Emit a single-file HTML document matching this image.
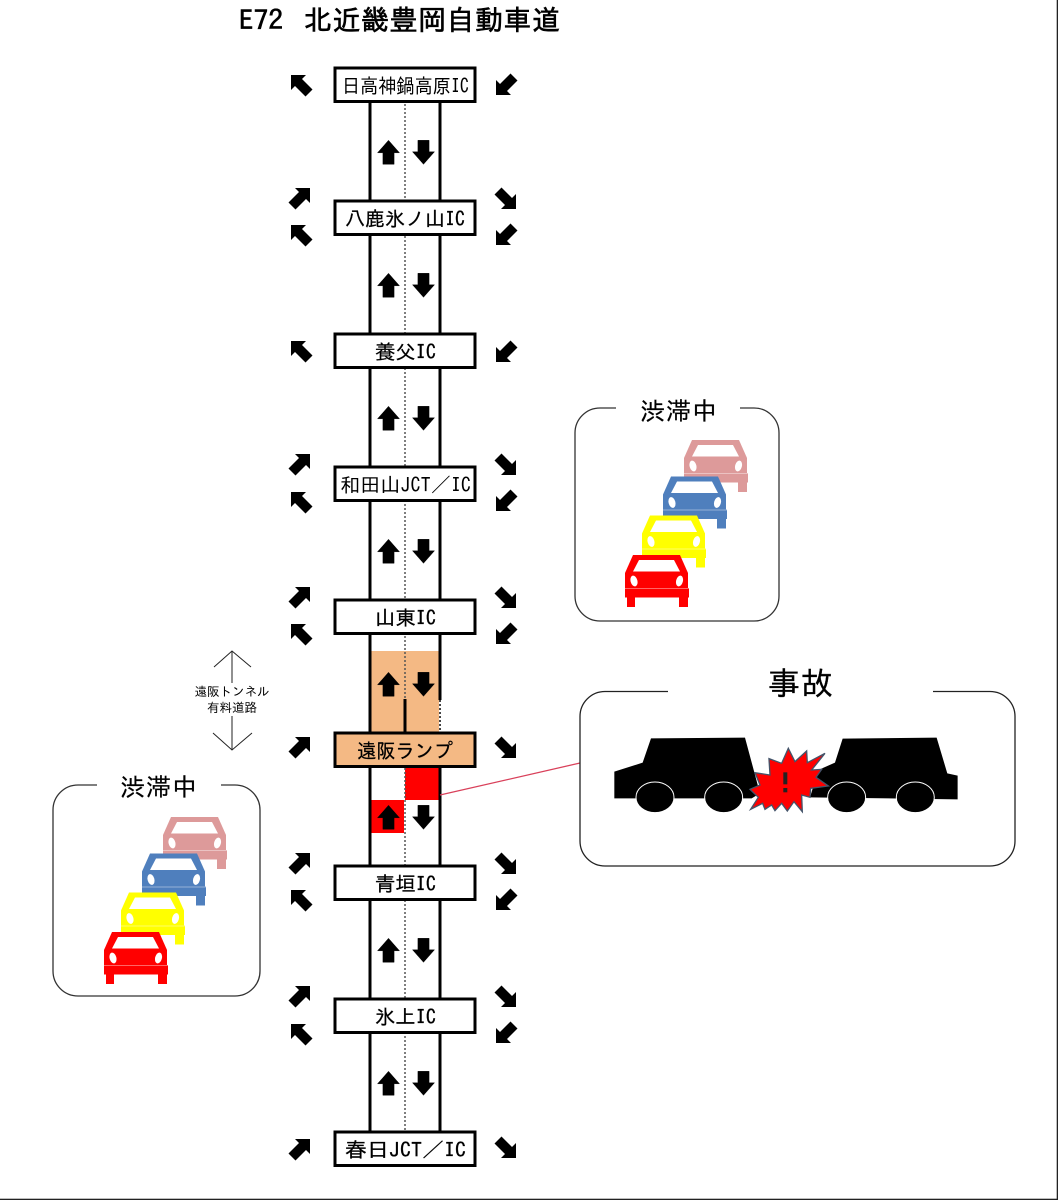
<!DOCTYPE html>
<html lang="ja">
<head>
<meta charset="utf-8">
<style>
html,body{margin:0;padding:0;background:#fff;}
svg{display:block;}
text{font-family:"IPAGothic","Noto Sans CJK JP",sans-serif;fill:#000;}
.lb{font-size:20px;stroke:#000;stroke-width:0.25;}
</style>
</head>
<body>
<svg width="1058" height="1200" viewBox="0 0 1058 1200" xmlns="http://www.w3.org/2000/svg">
<defs>
<polygon id="nw" points="-11,-11 4,-11 0,-7 10.5,3.500 3.500,10.500 -7,0 -11,4" fill="#000"/>
<polygon id="up" points="0,-12 11,0.500 5.600,0.500 5.600,12 -5.600,12 -5.600,0.500 -11,0.500" fill="#000" stroke="#000" stroke-width="0.4"/>
<g id="car">
<path d="M8,0H55L63,18V33H0V18Z"/>
<rect x="0" y="34" width="64" height="8.500"/>
<rect x="0" y="33" width="64" height="1" opacity="0.6"/>
<rect x="2" y="42" width="8" height="10"/>
<rect x="54" y="42" width="9" height="10"/>
<polygon points="14,5 49,5 55,16.500 8,16.500" fill="#fff"/>
<ellipse cx="9" cy="26" rx="3.400" ry="5.500" transform="rotate(-15 9 26)" fill="#fff"/>
<ellipse cx="54.500" cy="26" rx="3.400" ry="5.500" transform="rotate(15 54.500 26)" fill="#fff"/>
</g>
<g id="cars">
<use href="#car" x="684" y="440" fill="#dd9a9a"/>
<use href="#car" x="663" y="476.500" fill="#4f7fbd"/>
<use href="#car" x="642" y="515.500" fill="#ffff00"/>
<use href="#car" x="625" y="555" fill="#ff0000"/>
</g>
</defs>
<rect width="1058" height="1200" fill="#fff"/>

<!-- road -->
<rect x="371" y="651" width="68" height="82" fill="#f4b984"/>
<rect x="405" y="768" width="35" height="32" fill="#ff0000"/>
<rect x="371" y="800" width="33" height="33" fill="#ff0000"/>
<g stroke="#000" stroke-width="3" fill="none">
<path d="M370,100V1135M440,100V700"/>
<path d="M440,765V1135"/>
</g>
<path d="M440,700V733" stroke="#444" stroke-width="2" stroke-dasharray="2 2"/>
<path d="M405,100V699M405,768V1135" stroke="#555" stroke-width="1.500" stroke-dasharray="2 2" fill="none"/>
<path d="M405,699V733" stroke="#000" stroke-width="3"/>
<path d="M440,795L580,763" stroke="#d9405a" stroke-width="1.200"/>

<!-- road arrows -->
<use href="#up" x="388.500" y="152.300"/><use href="#up" transform="translate(423.500 152.300) rotate(180)"/>
<use href="#up" x="388.500" y="285.300"/><use href="#up" transform="translate(423.500 285.300) rotate(180)"/>
<use href="#up" x="388.500" y="418.300"/><use href="#up" transform="translate(423.500 418.300) rotate(180)"/>
<use href="#up" x="388.500" y="551.300"/><use href="#up" transform="translate(423.500 551.300) rotate(180)"/>
<use href="#up" x="388.500" y="684.300"/><use href="#up" transform="translate(423.500 684.300) rotate(180)"/>
<use href="#up" x="388.500" y="817.300"/><use href="#up" transform="translate(423.500 817.300) rotate(180)"/>
<use href="#up" x="388.500" y="950.300"/><use href="#up" transform="translate(423.500 950.300) rotate(180)"/>
<use href="#up" x="388.500" y="1083.300"/><use href="#up" transform="translate(423.500 1083.300) rotate(180)"/>

<!-- boxes -->
<g stroke="#000" stroke-width="3" fill="#fff">
<rect x="335" y="68" width="140" height="33.500"/>
<rect x="335" y="201" width="140" height="33.500"/>
<rect x="335" y="334" width="140" height="33.500"/>
<rect x="335" y="467" width="140" height="33.500"/>
<rect x="335" y="600" width="140" height="33.500"/>
<rect x="335" y="733" width="140" height="33.500" fill="#f4b984"/>
<rect x="335" y="866" width="140" height="33.500"/>
<rect x="335" y="999" width="140" height="33.500"/>
<rect x="335" y="1132" width="140" height="33.500"/>
</g>
<text class="lb" x="342" y="93" textLength="127" lengthAdjust="spacingAndGlyphs" style="stroke-width:0">日高神鍋高原IC</text>
<text class="lb" x="345" y="226" textLength="120" lengthAdjust="spacingAndGlyphs">八鹿氷ノ山IC</text>
<text class="lb" x="375" y="359" textLength="61" lengthAdjust="spacingAndGlyphs">養父IC</text>
<text class="lb" x="340" y="492" textLength="131" lengthAdjust="spacingAndGlyphs" style="stroke-width:0">和田山JCT／IC</text>
<text class="lb" x="375" y="625" textLength="61" lengthAdjust="spacingAndGlyphs">山東IC</text>
<text class="lb" x="357" y="758" textLength="96" lengthAdjust="spacingAndGlyphs">遠阪ランプ</text>
<text class="lb" x="375" y="891" textLength="61" lengthAdjust="spacingAndGlyphs">青垣IC</text>
<text class="lb" x="375" y="1024" textLength="61" lengthAdjust="spacingAndGlyphs">氷上IC</text>
<text class="lb" x="345" y="1157" textLength="121" lengthAdjust="spacingAndGlyphs">春日JCT／IC</text>

<!-- diagonal arrows -->
<g>
<use href="#nw" x="302" y="86"/><use href="#nw" transform="translate(507 84) rotate(-90)"/>
<use href="#nw" transform="translate(299 199) rotate(90)"/><use href="#nw" transform="translate(505 198) rotate(180)"/>
<use href="#nw" x="302" y="236"/><use href="#nw" transform="translate(507 234) rotate(-90)"/>
<use href="#nw" x="302" y="352"/><use href="#nw" transform="translate(507 351) rotate(-90)"/>
<use href="#nw" transform="translate(299 465) rotate(90)"/><use href="#nw" transform="translate(505 464) rotate(180)"/>
<use href="#nw" x="302" y="503"/><use href="#nw" transform="translate(507 500) rotate(-90)"/>
<use href="#nw" transform="translate(299 598) rotate(90)"/><use href="#nw" transform="translate(505 597) rotate(180)"/>
<use href="#nw" x="302" y="635"/><use href="#nw" transform="translate(507 633) rotate(-90)"/>
<use href="#nw" transform="translate(299 748) rotate(90)"/><use href="#nw" transform="translate(505 747) rotate(180)"/>
<use href="#nw" transform="translate(299 864) rotate(90)"/><use href="#nw" transform="translate(505 863) rotate(180)"/>
<use href="#nw" x="302" y="901"/><use href="#nw" transform="translate(507 899) rotate(-90)"/>
<use href="#nw" transform="translate(299 997) rotate(90)"/><use href="#nw" transform="translate(505 996) rotate(180)"/>
<use href="#nw" x="302" y="1035"/><use href="#nw" transform="translate(507 1032) rotate(-90)"/>
<use href="#nw" transform="translate(299 1150) rotate(90)"/><use href="#nw" transform="translate(505 1147) rotate(180)"/>
</g>

<!-- tunnel -->
<path d="M214,667L232,651L251,667M232,651V683M232,716V750M213,733L232,750L252,733" fill="none" stroke="#222" stroke-width="1"/>
<text x="232" y="696" font-size="12.500" text-anchor="middle">遠阪トンネル</text>
<text x="232" y="712" font-size="12.500" text-anchor="middle">有料道路</text>

<!-- right jam panel -->
<path d="M616,408H600A25,25 0 0 0 575,433V596A25,25 0 0 0 600,621H754A25,25 0 0 0 779,596V433A25,25 0 0 0 754,408H740" fill="none" stroke="#333" stroke-width="1.300"/>
<text x="640" y="420" font-size="25" textLength="77" stroke="#000" stroke-width="0.2">渋滞中</text>
<use href="#cars"/>

<!-- left jam panel -->
<path d="M97,785H78A25,25 0 0 0 53,810V971A25,25 0 0 0 78,996H235A25,25 0 0 0 260,971V810A25,25 0 0 0 235,785H221" fill="none" stroke="#333" stroke-width="1.300"/>
<text x="120" y="796" font-size="25" textLength="77" stroke="#000" stroke-width="0.2">渋滞中</text>
<use href="#cars" x="-521" y="377"/>

<!-- accident panel -->
<path d="M668,691.500H605A25,25 0 0 0 580,716.500V841A25,25 0 0 0 605,866H990A25,25 0 0 0 1015,841V716.500A25,25 0 0 0 990,691.500H933" fill="none" stroke="#222" stroke-width="1.300"/>
<text x="768" y="695" font-size="32" textLength="65" stroke="#000" stroke-width="0.3">事故</text>
<g transform="translate(570 680) scale(0.3333)">
<polygon points="133,275 218,248 243,175 525,173 570,340 545,355 133,355" fill="#000"/>
<polygon points="720,352 745,270 795,248 818,176 1100,173 1132,280 1163,287 1163,358" fill="#000"/>
<g fill="#000" stroke="#fff" stroke-width="3">
<ellipse cx="255" cy="352" rx="57" ry="46"/>
<ellipse cx="461" cy="352" rx="57" ry="46"/>
<ellipse cx="830" cy="352" rx="57" ry="46"/>
<ellipse cx="1036" cy="352" rx="57" ry="46"/>
</g>
<polygon points="540,328 570,315 555,278 600,285 597,236 635,250 655,205 675,245 710,213 712,248 765,220 725,270 755,268 738,292 775,318 722,325 720,352 695,345 697,395 672,365 652,393 635,370 615,392 605,375 585,388 578,370 542,388 565,352" fill="#ff0000" stroke="#44546a" stroke-width="4"/>
<rect x="640" y="277" width="12" height="36" fill="#222"/>
<rect x="640" y="324" width="12" height="13" fill="#222"/>
</g>

<!-- title -->
<text x="239" y="30" font-size="27" stroke="#000" stroke-width="0.6" textLength="44" lengthAdjust="spacingAndGlyphs">E72</text>
<text x="304" y="30" font-size="28" textLength="256" stroke="#000" stroke-width="0.6">北近畿豊岡自動車道</text>

<!-- frame -->
<rect x="1056.700" y="0" width="1.300" height="1200" fill="#222"/>
<rect x="0" y="1198.700" width="1058" height="1.300" fill="#222"/>
</svg>
</body>
</html>
